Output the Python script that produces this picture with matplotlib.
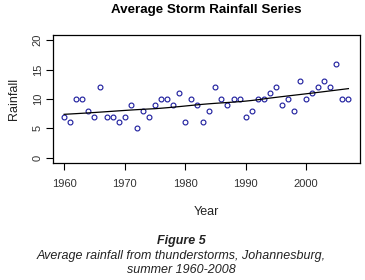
import numpy as np
import matplotlib
matplotlib.use('Agg')
import matplotlib.pyplot as plt

plt.rcParams['font.family'] = ['Liberation Sans', 'DejaVu Sans']

years = np.arange(1960, 2008)
rain = [7, 6, 10, 10, 8, 7, 12, 7, 7, 6,
        7, 9, 5, 8, 7, 9, 10, 10, 9, 11,
        6, 10, 9, 6, 8, 12, 10, 9, 10, 10,
        7, 8, 10, 10, 11, 12, 9, 10, 8, 13,
        10, 11, 12, 13, 12, 16, 10, 10]
xticks = [1960, 1970, 1980, 1990, 2000]
yticks = [0, 5, 10, 15, 20]


def lowess(x, y, f=2/3, iters=3):
    # plain local-linear lowess, tricube weights + bisquare robustness
    x = np.asarray(x, float)
    y = np.asarray(y, float)
    n = len(x)
    r = int(np.ceil(f * n))
    fit = np.zeros(n)
    rob = np.ones(n)
    for it in range(iters + 1):
        for i in range(n):
            d = np.abs(x - x[i])
            h = np.sort(d)[r - 1]
            w = np.clip(d / h, 0, 1)
            w = (1 - w ** 3) ** 3 * rob
            W = w.sum()
            xm = (w * x).sum() / W
            ym = (w * y).sum() / W
            b = (w * (x - xm) * (y - ym)).sum() / (w * (x - xm) ** 2).sum()
            fit[i] = ym + b * (x[i] - xm)
        res = y - fit
        s = np.median(np.abs(res))
        u = np.clip(res / (6 * s), -1, 1)
        rob = (1 - u ** 2) ** 2
    return fit


smooth = lowess(years, rain)

fig = plt.figure(figsize=(3.65, 2.8), dpi=100)
ax = fig.add_axes([0.146, 0.419, 0.840, 0.456])

ax.plot(years, rain, 'o', mfc='none', mec='#1a1a9c', ms=3.5, mew=0.8)
ax.plot(years, smooth, color='black', lw=0.9)

ax.set_xlim(1958.2, 2008.9)
ax.set_ylim(-0.85, 20.9)
ax.set_xticks(xticks)
ax.set_yticks(yticks)
ax.tick_params(direction='out', length=5, width=0.8, labelsize=8,
               labelcolor='#333333')
ax.tick_params(axis='x', pad=7)
ax.tick_params(axis='y', pad=2.5)
for lab in ax.get_yticklabels():
    lab.set_rotation(90)
    lab.set_va('center')
for s in ax.spines.values():
    s.set_linewidth(0.9)

ax.set_xlabel('Year', fontsize=9, color='#222222', labelpad=12)
ax.set_ylabel('Rainfall', fontsize=9, color='#222222', labelpad=9)

fig.text(0.564, 0.963, 'Average Storm Rainfall Series', ha='center', va='center',
         fontsize=9.6, fontweight='bold')
fig.text(0.496, 0.138, 'Figure 5', ha='center', va='center',
         fontsize=9, fontweight='bold', style='italic', color='#222222')
fig.text(0.496, 0.085, 'Average rainfall from thunderstorms, Johannesburg,',
         ha='center', va='center', fontsize=9, style='italic', color='#222222')
fig.text(0.496, 0.036, 'summer 1960-2008', ha='center', va='center',
         fontsize=9, style='italic', color='#222222')

fig.savefig('out.png', dpi=100)
